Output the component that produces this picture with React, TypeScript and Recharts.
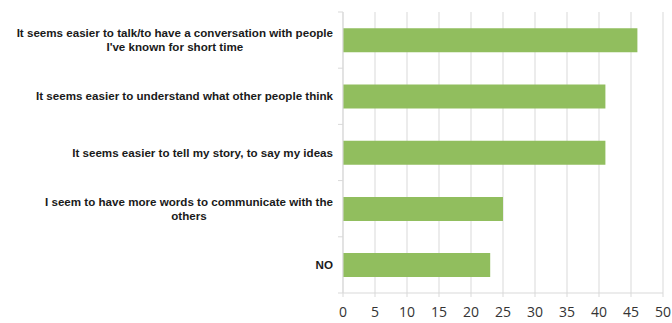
import React from 'react';
import { BarChart, Bar, XAxis, YAxis, CartesianGrid } from 'recharts';

// answers, top to bottom ("\n" marks where the label wraps)
const answers = [
  "It seems easier to talk/to have a conversation with people\nI've known for short time",
  'It seems easier to understand what other people think',
  'It seems easier to tell my story, to say my ideas',
  'I seem to have more words to communicate with the\nothers',
  'NO',
];
const counts = [46, 41, 41, 25, 23];
const xTicks = [0, 5, 10, 15, 20, 25, 30, 35, 40, 45, 50];

const data = answers.map((a, i) => ({ answer: a, count: counts[i] }));

const W = 672;
const H = 323;
const TOP = 12;
const AXIS_H = 30;
const Y_W = 343;
const LABEL_FONT = 'bold 11.6px "Liberation Sans", Arial, sans-serif';
const GRID = '#d9d9d9';

let ctx: CanvasRenderingContext2D | null = null;
const measure = (s: string) => {
  if (!ctx) ctx = document.createElement('canvas').getContext('2d');
  if (!ctx) return s.length * 5.6;
  ctx.font = LABEL_FONT;
  return ctx.measureText(s).width;
};

const AnswerTick = (props: any) => {
  const { y, payload } = props;
  const axisX = Y_W;
  const lines: string[] = String(payload.value).split('\n');
  const band = (H - TOP - AXIS_H) / answers.length;
  const right = axisX - 10;
  const widest = Math.max(...lines.map(measure));
  const cx = right - widest / 2;
  const lh = 14;
  const y0 = y - ((lines.length - 1) * lh) / 2;
  return (
    <g>
      <line x1={axisX - 5} x2={axisX} y1={y - band / 2} y2={y - band / 2} stroke={GRID} />
      {payload.index === answers.length - 1 && (
        <line x1={axisX - 5} x2={axisX} y1={y + band / 2} y2={y + band / 2} stroke={GRID} />
      )}
      {lines.map((l, i) => (
        <text
          key={i}
          x={lines.length > 1 ? cx : right}
          y={y0 + i * lh}
          dy="0.35em"
          textAnchor={lines.length > 1 ? 'middle' : 'end'}
          style={{ font: LABEL_FONT }}
          fill="#1a1a1a"
        >
          {l}
        </text>
      ))}
    </g>
  );
};

export default function App() {
  return (
    <div style={{ position: 'absolute', left: 0, top: 0, width: W, height: H, background: '#fff' }}>
      <BarChart
        width={W}
        height={H}
        data={data}
        layout="vertical"
        margin={{ top: TOP, right: 9, bottom: 0, left: 0 }}
        barCategoryGap="29%"
      >
        <CartesianGrid horizontal={false} stroke={GRID} />
        <XAxis
          type="number"
          domain={[0, 50]}
          ticks={xTicks}
          interval={0}
          height={AXIS_H}
          axisLine={{ stroke: GRID }}
          tickLine={{ stroke: GRID }}
          tickSize={4}
          tick={{ fill: '#333', fontSize: 14, fontFamily: '"Open Sans", sans-serif' }}
          tickMargin={10}
        />
        <YAxis
          type="category"
          dataKey="answer"
          width={Y_W}
          axisLine={{ stroke: GRID }}
          tickLine={false}
          interval={0}
          tick={<AnswerTick />}
        />
        <Bar dataKey="count" fill="#91be5e" isAnimationActive={false} />
      </BarChart>
    </div>
  );
}
